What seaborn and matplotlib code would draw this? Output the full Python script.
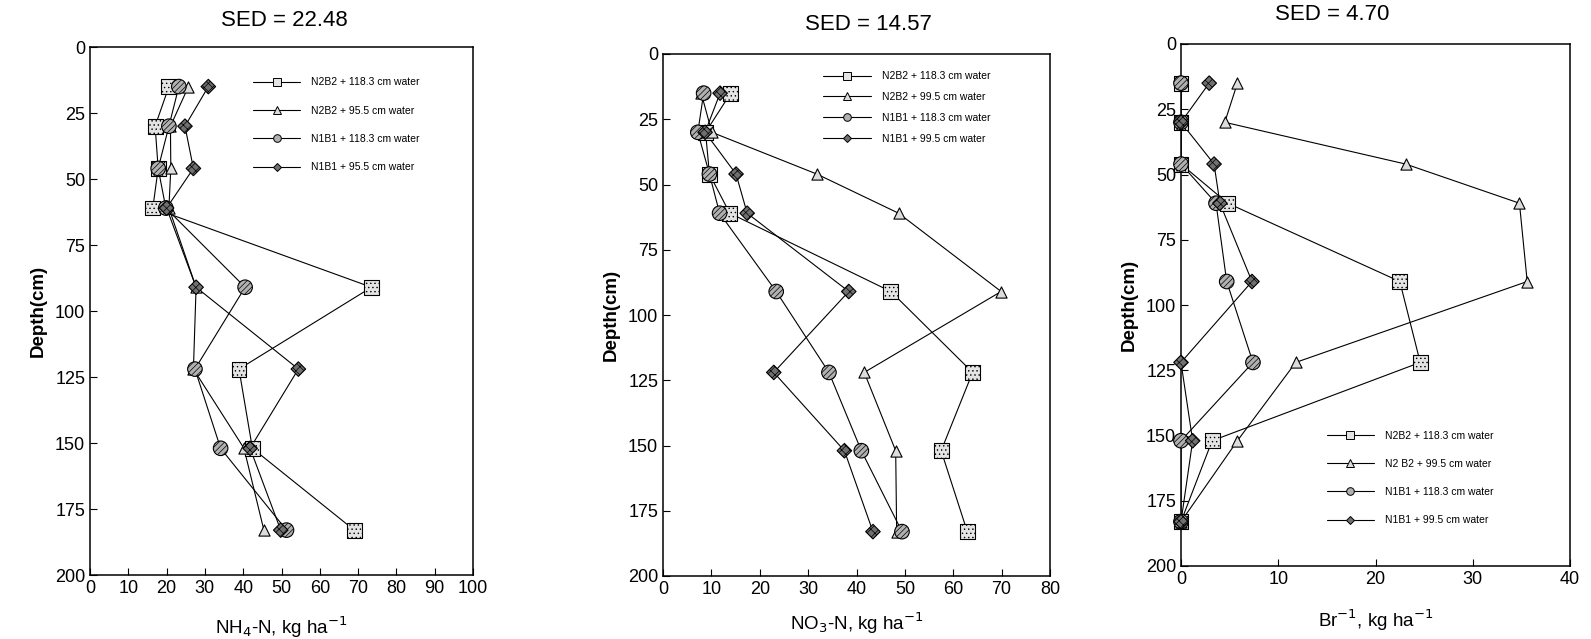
import matplotlib
matplotlib.use("Agg")
import matplotlib.pyplot as plt
from matplotlib.lines import Line2D
import pandas as pd
import seaborn as sns

# Sampling depths (cm)
depth = [15, 30, 46, 61, 91, 122, 152, 183]

# NH4-N profiles (kg/ha)
nh4_n2b2_118 = [20.6, 17.0, 17.8, 16.4, 73.5, 38.9, 42.4, 69.0]
nh4_n2b2_95 = [25.7, 21.0, 21.1, 20.6, 27.7, 27.0, 40.2, 45.4]
nh4_n1b1_118 = [23.2, 20.6, 17.8, 19.8, 40.5, 27.4, 34.1, 51.3]
nh4_n1b1_95 = [30.9, 24.8, 27.0, 20.0, 27.7, 54.4, 41.8, 49.8]

# NO3-N profiles (kg/ha)
no3_n2b2_118 = [14.0, 8.8, 9.6, 13.8, 47.1, 64.0, 57.5, 62.9]
no3_n2b2_99 = [7.9, 10.1, 31.8, 48.7, 69.9, 41.6, 48.1, 48.3]
no3_n1b1_118 = [8.4, 7.2, 9.6, 11.7, 23.4, 34.3, 41.0, 49.4]
no3_n1b1_99 = [11.8, 8.7, 15.1, 17.4, 38.4, 22.9, 37.5, 43.4]

# Bromide profiles (kg/ha)
br_n2b2_118 = [0.0, 0.0, 0.0, 4.8, 22.5, 24.6, 3.2, 0.0]
br_n2b2_99 = [5.8, 4.5, 23.1, 34.8, 35.6, 11.8, 5.8, 0.0]
br_n1b1_118 = [0.0, 0.0, 0.0, 3.6, 4.7, 7.4, 0.0, 0.0]
br_n1b1_99 = [2.9, 0.0, 3.4, 4.0, 7.3, 0.0, 1.2, 0.0]

titles = ["SED = 22.48", "SED = 14.57", "SED = 4.70"]
xlabels = ["NH$_4$-N, kg ha$^{-1}$", "NO$_3$-N, kg ha$^{-1}$", "Br$^{-1}$, kg ha$^{-1}$"]
xmax = [100, 80, 40]
labels = [
    ["N2B2 + 118.3 cm water", "N2B2 + 95.5 cm water",
     "N1B1 + 118.3 cm water", "N1B1 + 95.5 cm water"],
    ["N2B2 + 118.3 cm water", "N2B2 + 99.5 cm water",
     "N1B1 + 118.3 cm water", "N1B1 + 99.5 cm water"],
    ["N2B2 + 118.3 cm water", "N2 B2 + 99.5 cm water",
     "N1B1 + 118.3 cm water", "N1B1 + 99.5 cm water"],
]
series = [
    [nh4_n2b2_118, nh4_n2b2_95, nh4_n1b1_118, nh4_n1b1_95],
    [no3_n2b2_118, no3_n2b2_99, no3_n1b1_118, no3_n1b1_99],
    [br_n2b2_118, br_n2b2_99, br_n1b1_118, br_n1b1_99],
]

# marker styles per treatment
mk = ["s", "^", "o", "D"]
msize = [115, 65, 110, 55]
mfill = ["#e4e4e4", "#dcdcdc", "#b0b0b0", "#707070"]
mhatch = ["....", None, "//////", "xxxx"]

sns.set_style("ticks")
plt.rcParams["font.family"] = ["Liberation Sans", "DejaVu Sans"]
plt.rcParams["hatch.linewidth"] = 0.5
plt.rcParams["xtick.direction"] = "in"
plt.rcParams["ytick.direction"] = "in"
for key in ["text.color", "axes.labelcolor", "xtick.color", "ytick.color",
            "axes.edgecolor"]:
    plt.rcParams[key] = "black"

W, H = 1591, 639
fig = plt.figure(figsize=(W / 100, H / 100), dpi=100)

# axes boxes in pixels: left, right, top, bottom
boxes = [(90, 473, 47, 575), (663, 1050, 54, 576), (1181, 1570, 44, 566)]
title_pos = [(284, 20), (868, 24), (1332, 15)]
xlabel_pad = [13, 9, 14]
leg_cfg = [
    dict(loc="upper left", bbox_to_anchor=(0.40, 0.96), labelspacing=1.75),
    dict(loc="upper left", bbox_to_anchor=(0.39, 0.985), labelspacing=1.05),
    dict(loc="lower left", bbox_to_anchor=(0.35, 0.06), labelspacing=1.75),
]

for i in range(3):
    l, r, t, b = boxes[i]
    ax = fig.add_axes([l / W, 1 - b / H, (r - l) / W, (b - t) / H])
    rows = []
    for j in range(4):
        for d, v in zip(depth, series[i][j]):
            rows.append({"depth": d, "value": v, "series": labels[i][j]})
    df = pd.DataFrame(rows)
    sns.lineplot(data=df, x="value", y="depth", hue="series",
                 palette=["black"] * 4, sort=False, estimator=None,
                 legend=False, linewidth=0.8, ax=ax, zorder=2)
    for j in range(4):
        sub = df[df["series"] == labels[i][j]]
        sns.scatterplot(data=sub, x="value", y="depth", marker=mk[j],
                        s=msize[j], color=mfill[j], edgecolor="black",
                        linewidth=0.8, ax=ax, zorder=3 + j, clip_on=False,
                        legend=False)
        if mhatch[j]:
            ax.collections[-1].set_hatch(mhatch[j])

    ax.set_xlim(0, xmax[i])
    ax.set_ylim(200, 0)
    ax.set_xticks(range(0, xmax[i] + 1, 10))
    ax.set_yticks(range(0, 201, 25))
    ax.tick_params(labelsize=13, length=5, width=0.8, top=False, right=False)
    for s in ax.spines.values():
        s.set_visible(True)
        s.set_linewidth(1.1)
        s.set_color("black")
    ax.set_xlabel(xlabels[i], fontsize=13.5, labelpad=xlabel_pad[i])
    ax.set_ylabel("Depth(cm)", fontsize=13.5, fontweight="bold", labelpad=6)

    handles = [Line2D([], [], color="black", lw=0.8, marker=mk[j],
                      markersize=5.5 if j != 3 else 4.5,
                      markerfacecolor=mfill[j], markeredgecolor="black",
                      markeredgewidth=0.7)
               for j in range(4)]
    ax.legend(handles, labels[i], frameon=False, fontsize=7.5,
              handlelength=4.6, handletextpad=1.0, **leg_cfg[i])

    tx, ty = title_pos[i]
    fig.text(tx / W, 1 - ty / H, titles[i], ha="center", va="center",
             fontsize=16)

fig.savefig("out.png", dpi=100, facecolor="white")
